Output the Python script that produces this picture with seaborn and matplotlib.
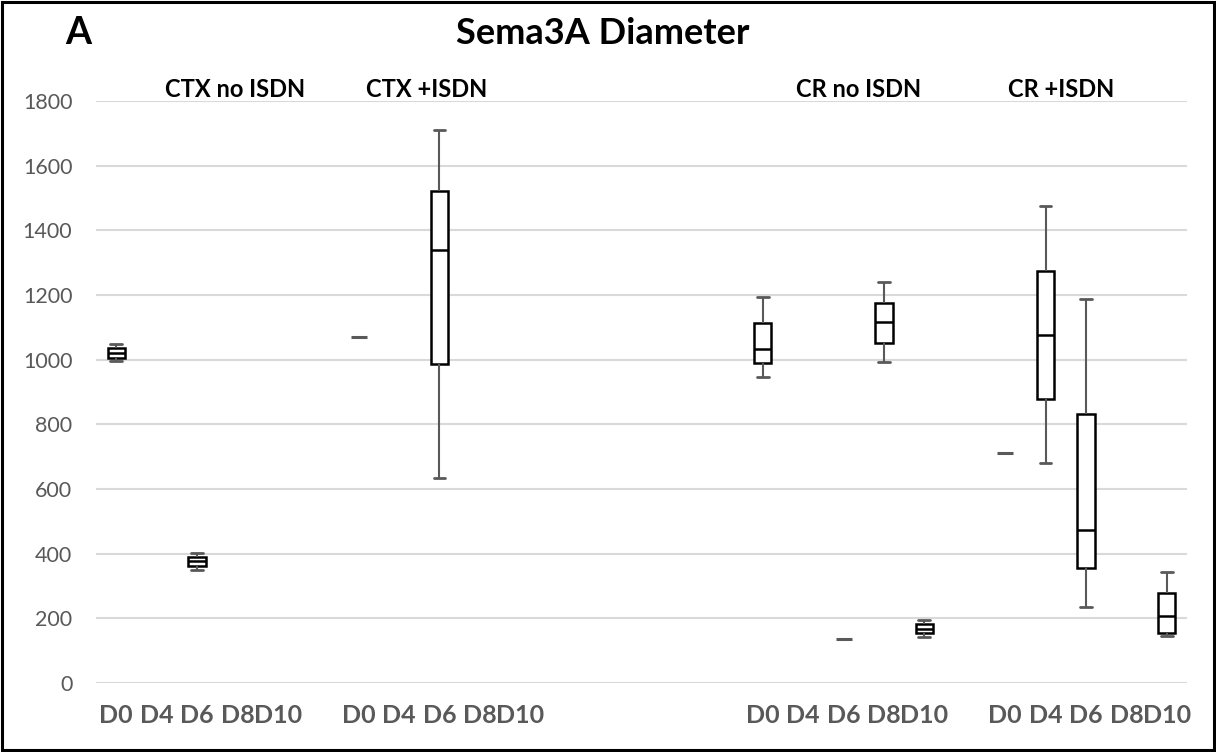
import numpy as np
import pandas as pd
import matplotlib
matplotlib.use("Agg")
import matplotlib.pyplot as plt
import matplotlib.transforms as mtransforms
from matplotlib.patches import Rectangle
import seaborn as sns

# ---------------- data ----------------
days = ["D0", "D4", "D6", "D8", "D10"]
groups = ["CTX no ISDN", "CTX +ISDN", "CR no ISDN", "CR +ISDN"]
gap_slots = [1, 5, 1, 0]          # empty category slots after each group

# five-number summaries: whisker low, Q1, median, Q3, whisker high
ctx_no_isdn = {"D0": [995, 1005, 1022, 1037, 1049],
               "D6": [351, 362, 376, 390, 403]}
ctx_isdn = {"D6": [633, 986, 1339, 1521, 1709]}
cr_no_isdn = {"D0": [945, 989, 1034, 1112, 1195],
              "D8": [993, 1053, 1118, 1176, 1239],
              "D10": [141, 155, 168, 181, 195]}
cr_isdn = {"D4": [680, 877, 1075, 1274, 1474],
           "D6": [235, 355, 473, 831, 1187],
           "D10": [144, 156, 208, 279, 342]}
group_boxes = [ctx_no_isdn, ctx_isdn, cr_no_isdn, cr_isdn]

# single observations (drawn as a dash)
single_groups = ["CTX +ISDN", "CR no ISDN", "CR +ISDN"]
single_days = ["D0", "D6", "D0"]
single_values = [1069, 137, 711]

y_ticks = [0, 200, 400, 600, 800, 1000, 1200, 1400, 1600, 1800]

# ---------------- build tables ----------------
order, tick_labels = [], []
for gi, g in enumerate(groups):
    for d in days:
        order.append(f"{g}|{d}")
        tick_labels.append(d)
    for k in range(gap_slots[gi]):
        order.append(f"gap{gi}_{k}")
        tick_labels.append("")

rows = []
for g, boxes in zip(groups, group_boxes):
    for d, vals in boxes.items():
        for v in vals:
            rows.append({"slot": f"{g}|{d}", "value": v})
df = pd.DataFrame(rows)
df_single = pd.DataFrame({"slot": [f"{g}|{d}" for g, d in zip(single_groups, single_days)],
                          "value": single_values})

# ---------------- plot ----------------
sns.set_theme(style="white")
plt.rcParams["font.family"] = ["Lato", "DejaVu Sans"]

W, H = 1216, 752
fig = plt.figure(figsize=(W / 100, H / 100), dpi=100)
ax = fig.add_axes([96 / W, 1 - 683 / H, (1187 - 96) / W, (683 - 101) / H])

gray = "#595959"
sns.boxplot(data=df, x="slot", y="value", order=order, ax=ax,
            whis=(0, 100), width=0.43, color="white", linecolor="black",
            linewidth=1.8, fill=True, capwidths=0.29,
            whiskerprops=dict(color=gray, linewidth=1.5),
            capprops=dict(color=gray, linewidth=2.0),
            medianprops=dict(color="black", linewidth=1.8))
sns.stripplot(data=df_single, x="slot", y="value", order=order, ax=ax,
              jitter=False, marker="_", size=12, linewidth=2.2, color=gray)

ax.set_ylim(0, 1800)
ax.set_yticks(y_ticks)
ax.set_yticklabels([str(t) for t in y_ticks])
ax.set_xticks(range(len(order)))
ax.set_xticklabels(tick_labels)
ax.set_xlim(-0.5, len(order) - 0.5)
ax.set_xlabel("")
ax.set_ylabel("")
ax.yaxis.grid(True, color="#D9D9D9", linewidth=1.5)
ax.xaxis.grid(False)
ax.set_axisbelow(True)
for s in ax.spines.values():
    s.set_visible(False)
ax.tick_params(axis="both", length=0)
ax.tick_params(axis="y", pad=17, labelsize=15.5, labelcolor=gray)
ax.tick_params(axis="x", pad=15, labelsize=18, labelcolor=gray)
for lab in ax.get_xticklabels():
    lab.set_fontweight("bold")

# group labels
trans = mtransforms.blended_transform_factory(ax.transData, ax.transAxes)
label_x = [2.94, 7.67, 18.36, 23.38]
for g, x in zip(groups, label_x):
    ax.text(x, 1.019, g, transform=trans, ha="center", va="center",
            fontsize=17, fontweight="bold", color="black")

fig.text(603 / W, 1 - 33 / H, "Sema3A Diameter", ha="center", va="center",
         fontsize=26, fontweight="bold", color="black")
fig.text(65 / W, 1 - 33 / H, "A", ha="left", va="center",
         fontsize=27, fontweight="bold", color="black")

fig.patches.append(Rectangle((0.0015, 0.002), 0.997, 0.996, transform=fig.transFigure,
                             fill=False, edgecolor="black", linewidth=2.2))

fig.savefig("out.png", dpi=100)
